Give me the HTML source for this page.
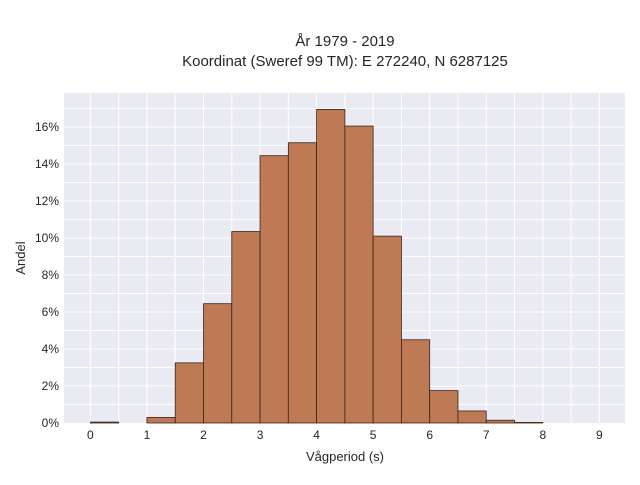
<!DOCTYPE html>
<html><head><meta charset="utf-8"><style>
body{margin:0;background:#fff;font-family:"Liberation Sans",sans-serif;}
svg text{font-family:"Liberation Sans",sans-serif;fill:#262626;}
</style></head><body>
<svg id="chart" width="640" height="480" xmlns="http://www.w3.org/2000/svg">
<text x="345" y="46" font-size="15" text-anchor="middle">År 1979 - 2019</text>
<text x="345" y="66" font-size="15" text-anchor="middle">Koordinat (Sweref 99 TM): E 272240, N 6287125</text>
<rect x="64" y="93" width="561" height="330" fill="#eaeaf2"/>
<g id="grid"></g>
<g id="bars"></g>
<g id="ticks"></g>
<text x="345" y="461" font-size="13" text-anchor="middle">Vågperiod (s)</text>
<text x="25" y="258" font-size="13" text-anchor="middle" transform="rotate(-90 25 258)">Andel</text>
</svg>
<script>
const binStarts=[0,0.5,1,1.5,2,2.5,3,3.5,4,4.5,5,5.5,6,6.5,7,7.5];
const shares=[0.05,0,0.3,3.25,6.45,10.35,14.45,15.15,16.95,16.05,10.1,4.5,1.75,0.65,0.15,0.03];
const xTicks=[0,1,2,3,4,5,6,7,8,9];
const yTicks=[0,2,4,6,8,10,12,14,16];
const binWidth=0.5;
const NS="http://www.w3.org/2000/svg";
const X=v=>90.4+v*56.55;
const Y=v=>423-v*18.5;
const grid=document.getElementById('grid'),bars=document.getElementById('bars'),ticks=document.getElementById('ticks');
function mk(tag,attrs,parent){const e=document.createElementNS(NS,tag);for(const k in attrs)e.setAttribute(k,attrs[k]);parent.appendChild(e);return e;}
for(let v=-0.5;v<=9.5;v+=0.5){const x=X(v);if(x<64||x>625)continue;
const l=mk('line',{x1:x,x2:x,y1:93,y2:423,stroke:'#fff','stroke-width':1},grid);

}
for(let v=1;v<=17;v++){const y=Y(v);if(y<93)continue;
const l=mk('line',{x1:64,x2:625,y1:y,y2:y,stroke:'#fff','stroke-width':1},grid);

}
binStarts.forEach((b,i)=>{const v=shares[i];if(v<=0)return;
const r=mk('rect',{x:X(b),y:Y(v),width:X(b+binWidth)-X(b),height:Y(0)-Y(v),fill:'#bd7a55',stroke:'#3a2418','stroke-width':0.8},bars);

});
xTicks.forEach(t=>{const e=mk('text',{x:X(t),y:439,'font-size':12,'text-anchor':'middle'},ticks);e.textContent=t;

});
yTicks.forEach(t=>{const e=mk('text',{x:59,y:Y(t)+4,'font-size':12,'text-anchor':'end'},ticks);e.textContent=t+'%';

});
</script>
</body></html>
